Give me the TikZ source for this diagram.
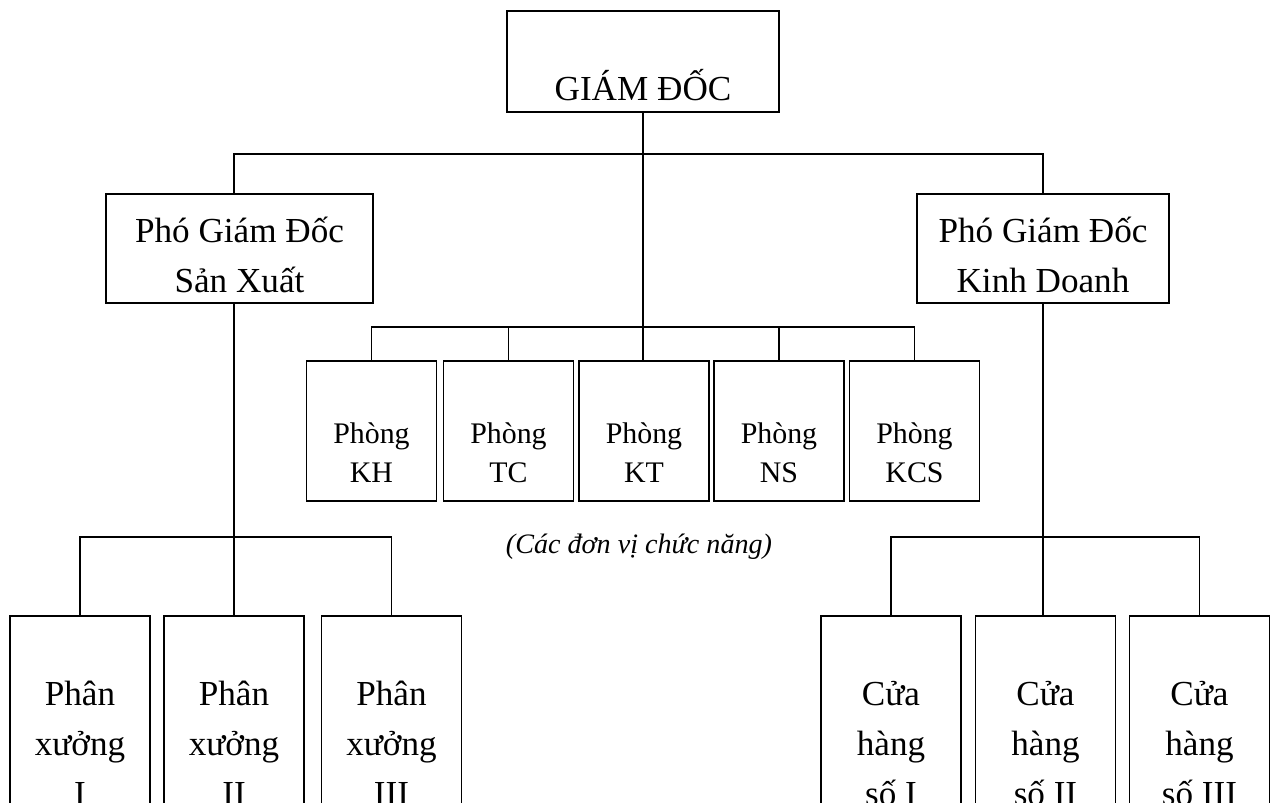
\documentclass[tikz,border=0pt]{standalone}
\usepackage{fontspec}
\setmainfont{Liberation Serif}
\usetikzlibrary{positioning}

\tikzset{
  unit/.style={draw, line width=1pt, inner sep=0pt, align=center},
  chief/.style={unit, minimum width=5.44cm, text height=1.8cm, text depth=0.22cm,
    font=\fontsize{20}{28.5}\selectfont},
  deputy/.style={unit, text height=1.98cm, text depth=0.2cm,
    font=\fontsize{20}{28.5}\selectfont},
  dept/.style={unit, minimum width=2.6cm, text height=2.44cm, text depth=0.36cm,
    font=\fontsize{17}{22.2}\selectfont},
  shop/.style={unit, minimum width=2.8cm, text height=3.8cm, text depth=1.4cm,
    font=\fontsize{20}{28.45}\selectfont},
  link/.style={line width=0.8pt}
}

\begin{document}
\begin{tikzpicture}
  \useasboundingbox (0,0) rectangle (25.42,-16.04);
  \clip (0,0) rectangle (25.42,-16.04);

  % top
  \node[chief, anchor=north] (gd) at (12.86,-0.2) {GIÁM ĐỐC};
  \node[deputy, anchor=north, minimum width=5.34cm] (pgdsx) at (4.79,-3.86) {Phó Giám Đốc\\Sản Xuất};
  \node[deputy, anchor=north, minimum width=5.04cm] (pgdkd) at (20.86,-3.86) {Phó Giám Đốc\\Kinh Doanh};

  % functional departments
  \node[dept, anchor=north] (kh)  at (7.43,-7.2)  {Phòng\\KH};
  \node[dept, anchor=north] (tc)  at (10.17,-7.2) {Phòng\\TC};
  \node[dept, anchor=north] (kt)  at (12.88,-7.2) {Phòng\\KT};
  \node[dept, anchor=north] (ns)  at (15.58,-7.2) {Phòng\\NS};
  \node[dept, anchor=north] (kcs) at (18.29,-7.2) {Phòng\\KCS};
  \node[font=\fontsize{16}{19}\selectfont\itshape, anchor=base] (note) at (12.78,-11.06)
    {(Các đơn vị chức năng)};

  % workshops and shops
  \node[shop, anchor=north] (px1) at (1.6,-12.3)  {Phân\\xưởng\\I};
  \node[shop, anchor=north] (px2) at (4.68,-12.3) {Phân\\xưởng\\II};
  \node[shop, anchor=north] (px3) at (7.83,-12.3) {Phân\\xưởng\\III};
  \node[shop, anchor=north] (ch1) at (17.82,-12.3) {Cửa\\hàng\\số I};
  \node[shop, anchor=north] (ch2) at (20.91,-12.3) {Cửa\\hàng\\số II};
  \node[shop, anchor=north] (ch3) at (23.99,-12.3) {Cửa\\hàng\\số III};

  % bars
  \coordinate (bar)  at (12.86,-3.08);
  \coordinate (pbar) at (12.86,-6.54);
  \coordinate (lbar) at (4.68,-10.74);
  \coordinate (rbar) at (20.86,-10.74);

  \draw[link] (gd.south) -- (gd.south |- kt.north);
  \draw[link] (pgdsx.north -| px2.north) |- (bar) -| (pgdkd.north);
  \draw[link] (kh.north) |- (pbar) -| (kcs.north);
  \draw[link] (tc.north) -- (tc.north |- pbar);
  \draw[link] (ns.north) -- (ns.north |- pbar);

  \draw[link] (pgdsx.south -| px2.north) -- (px2.north);
  \draw[link] (px1.north) |- (lbar) -| (px3.north);
  \draw[link] (pgdkd.south) -- (pgdkd.south |- ch2.north);
  \draw[link] (ch1.north) |- (rbar) -| (ch3.north);
\end{tikzpicture}
\end{document}
